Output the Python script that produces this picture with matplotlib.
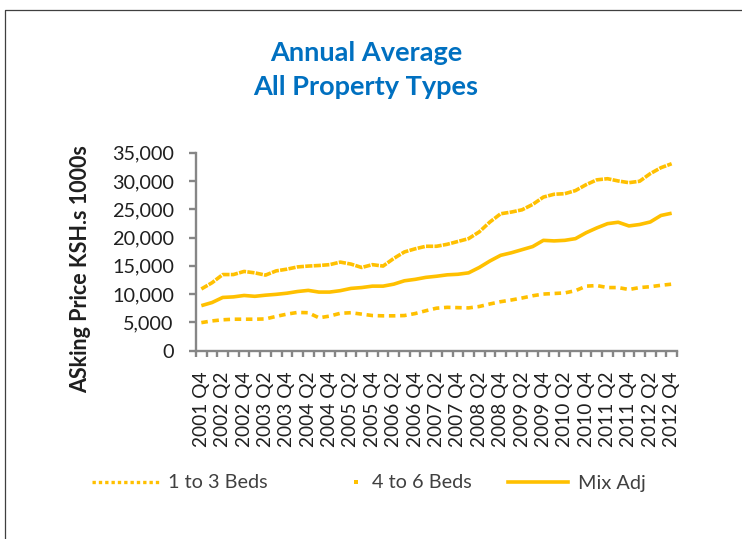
import matplotlib
matplotlib.use("Agg")
import matplotlib.pyplot as plt
from matplotlib.lines import Line2D
from matplotlib.ticker import FuncFormatter
import numpy as np

plt.rcParams['font.family'] = ['Lato', 'DejaVu Sans']

# ---------------- data ----------------
quarters = [
    "2001 Q4",
    "2002 Q1", "2002 Q2", "2002 Q3", "2002 Q4",
    "2003 Q1", "2003 Q2", "2003 Q3", "2003 Q4",
    "2004 Q1", "2004 Q2", "2004 Q3", "2004 Q4",
    "2005 Q1", "2005 Q2", "2005 Q3", "2005 Q4",
    "2006 Q1", "2006 Q2", "2006 Q3", "2006 Q4",
    "2007 Q1", "2007 Q2", "2007 Q3", "2007 Q4",
    "2008 Q1", "2008 Q2", "2008 Q3", "2008 Q4",
    "2009 Q1", "2009 Q2", "2009 Q3", "2009 Q4",
    "2010 Q1", "2010 Q2", "2010 Q3", "2010 Q4",
    "2011 Q1", "2011 Q2", "2011 Q3", "2011 Q4",
    "2012 Q1", "2012 Q2", "2012 Q3", "2012 Q4",
]

beds_1_3 = [4950, 5250, 5450, 5550, 5550, 5550, 5600, 6050, 6450, 6750,
            6700, 5800, 6100, 6600, 6700, 6450, 6200, 6150, 6150, 6200,
            6550, 7050, 7500, 7650, 7600, 7550, 7800, 8250, 8650, 8950,
            9300, 9700, 10000, 10100, 10200, 10600, 11400, 11500, 11150, 11150,
            10800, 11150, 11300, 11550, 11750]

beds_4_6 = [10900, 12000, 13450, 13450, 14000, 13750, 13350, 14100, 14400, 14800,
            14950, 15050, 15200, 15650, 15300, 14700, 15200, 14950, 16300, 17450,
            18000, 18450, 18450, 18800, 19300, 19800, 21000, 22750, 24200, 24500,
            24900, 25850, 27150, 27650, 27750, 28300, 29350, 30200, 30400, 30000,
            29700, 29950, 31300, 32350, 33050]

mix_adj = [7950, 8500, 9400, 9500, 9750, 9600, 9800, 9950, 10150, 10450,
           10650, 10350, 10350, 10600, 11000, 11150, 11400, 11400, 11750, 12350,
           12600, 12950, 13150, 13400, 13500, 13750, 14700, 15850, 16850, 17300,
           17850, 18400, 19500, 19400, 19500, 19800, 20850, 21700, 22450, 22700,
           22050, 22300, 22750, 23900, 24300]

series_labels = ["1 to 3 Beds", "4 to 6 Beds", "Mix Adj"]
title_text = "Annual Average\nAll Property Types"
ylabel_text = "ASking Price KSH.s 1000s"
y_ticks = [0, 5000, 10000, 15000, 20000, 25000, 30000, 35000]

# ---------------- style ----------------
GOLD = "#FFC000"
AXIS_GRAY = "#868686"
TEXT_DARK = "#1F1F1F"
TITLE_BLUE = "#0070C0"
FS = 14.3

fig = plt.figure(figsize=(7.42, 5.39), dpi=100)
ax = fig.add_axes([196 / 742, 1 - 350.6 / 539, 481 / 742, (350.6 - 152.7) / 539])

x = np.arange(len(quarters))
lw = 2.6
ax.plot(x, beds_4_6, color=GOLD, lw=lw, linestyle=(0, (2.0, 0.35)),
        dash_capstyle='butt', solid_joinstyle='miter')
ax.plot(x, mix_adj, color=GOLD, lw=lw, solid_capstyle='butt')
ax.plot(x, beds_1_3, color=GOLD, lw=lw, linestyle=(0, (1.8, 1.3)),
        dash_capstyle='butt')

ax.set_xlim(-0.5, len(quarters) - 0.5)
ax.set_ylim(0, 35000)
ax.set_yticks(y_ticks)
ax.yaxis.set_major_formatter(FuncFormatter(lambda v, p: f"{v:,.0f}"))

ax.set_xticks(x[::2])
ax.set_xticklabels(quarters[::2], rotation=90, ha='center', va='top')
ax.set_xticks(np.arange(-0.5, len(quarters), 1), minor=True)

for s in ['top', 'right']:
    ax.spines[s].set_visible(False)
for s in ['left', 'bottom']:
    ax.spines[s].set_color(AXIS_GRAY)
    ax.spines[s].set_linewidth(1.7)

ax.tick_params(axis='y', which='major', direction='out', length=5, width=1.7,
               color=AXIS_GRAY, pad=11, labelsize=FS, labelcolor=TEXT_DARK)
ax.tick_params(axis='x', which='major', length=0, pad=15,
               labelsize=13.8, labelcolor=TEXT_DARK)
ax.tick_params(axis='x', which='minor', direction='out', length=4.5, width=1.7,
               color=AXIS_GRAY)

ax.set_ylabel(ylabel_text, fontsize=15.5, fontweight='bold', color=TEXT_DARK)
ax.yaxis.set_label_coords(-0.217, 0.41)

fig.text(366 / 742, 1 - 70 / 539, title_text, ha='center', va='center',
         fontsize=19.5, fontweight='bold', color=TITLE_BLUE, linespacing=1.5)

# ---------------- legend ----------------
h1 = Line2D([], [], color=GOLD, lw=2.4, linestyle=(0, (1.0, 0.9)))
h2 = Line2D([], [], color=GOLD, lw=0, marker='s', markersize=3.4,
            markeredgewidth=0)
h3 = Line2D([], [], color=GOLD, lw=2.6)
ly = 1 - 483 / 539
common = dict(loc='center left', frameon=False, fontsize=FS,
              labelcolor='#404040', handletextpad=0.5, borderpad=0,
              borderaxespad=0)
fig.legend([h1], [series_labels[0]], bbox_to_anchor=(92 / 742, ly),
           handlelength=3.35, **common)
fig.legend([h2], [series_labels[1]], bbox_to_anchor=(350 / 742, ly),
           handlelength=0.6, **common)
fig.legend([h3], [series_labels[2]], bbox_to_anchor=(508 / 742, ly),
           handlelength=3.0, **common)

# chart-area border (top and left edges visible in crop)
fig.add_artist(Line2D([5 / 742, 5 / 742, 1.0], [0.0, 1 - 10 / 539, 1 - 10 / 539],
                      transform=fig.transFigure, color="#3F3F3F", lw=0.9))

fig.savefig("out.png", dpi=100)
